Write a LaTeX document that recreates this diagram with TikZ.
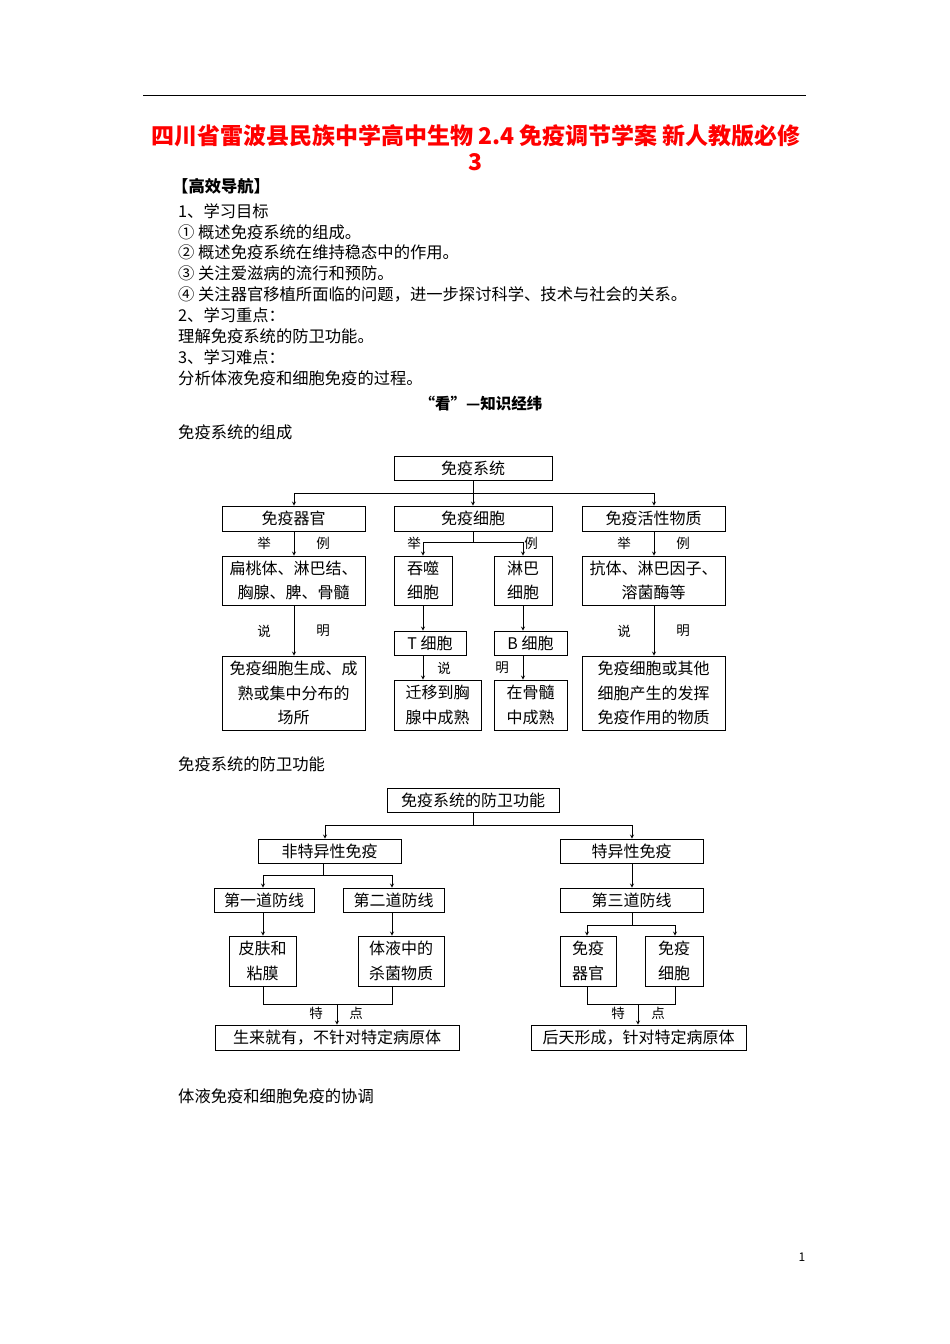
\documentclass[tikz,border=0pt]{standalone}
\usepackage{fontspec}
\setmainfont{Noto Sans CJK SC}
\begin{document}
\begin{tikzpicture}[x=1pt,y=-1pt,
 bx/.style={draw,thick,inner sep=0pt,font=\fontsize{16}{24.5}\selectfont,align=center},
 tx/.style={anchor=west,inner sep=0pt,font=\fontsize{16.3}{18}\selectfont},
 lb/.style={inner sep=0pt,font=\fontsize{13.5}{15}\selectfont},
 ar/.style={thick,-stealth},ln/.style={thick}]
\useasboundingbox (0,0) rectangle (950,1344);
\draw[thick] (143,95) -- (806,95);
\node[text=red,font=\fontsize{23}{26}\selectfont\bfseries] (t1) at (476,136) {四川省雷波县民族中学高中生物 2.4 免疫调节学案 新人教版必修};
\node[text=red,font=\fontsize{23}{26}\selectfont\bfseries] (t2) at (475,162) {3};
\node[tx,font=\fontsize{16.3}{18}\selectfont\bfseries] (h) at (172,186) {【高效导航】};
\foreach \i/\s in {0/{1、学习目标},1/{① 概述免疫系统的组成。},2/{② 概述免疫系统在维持稳态中的作用。},3/{③ 关注爱滋病的流行和预防。},4/{④ 关注器官移植所面临的问题，进一步探讨科学、技术与社会的关系。},5/{2、学习重点：},6/{理解免疫系统的防卫功能。},7/{3、学习难点：},8/{分析体液免疫和细胞免疫的过程。}}
 \node[tx] (l\i) at (178,211+20.9*\i) {\s};
\node[font=\fontsize{15.5}{18}\selectfont\bfseries,inner sep=0pt] (k) at (481,404) {“看”—知识经纬};
\node[tx] (s1) at (178,432) {免疫系统的组成};
\node[tx] (s2) at (178,764) {免疫系统的防卫功能};
\node[tx] (s3) at (178,1096) {体液免疫和细胞免疫的协调};
\node[inner sep=0pt,font=\fontsize{12}{14}\selectfont] (pg) at (802,1257) {1};
% diagram 1
\node[bx,minimum width=158,minimum height=24] (a) at (473,468) {免疫系统};
\node[bx,minimum width=143,minimum height=25] (b1) at (293.5,518.5) {免疫器官};
\node[bx,minimum width=158,minimum height=25] (b2) at (473,518.5) {免疫细胞};
\node[bx,minimum width=143,minimum height=25] (b3) at (653.5,518.5) {免疫活性物质};
\node[bx,minimum width=143,minimum height=49] (c1) at (293.5,580.5) {扁桃体、淋巴结、\\胸腺、脾、骨髓};
\node[bx,minimum width=58,minimum height=49] (c2) at (423,580.5) {吞噬\\细胞};
\node[bx,minimum width=58,minimum height=49] (c3) at (523,580.5) {淋巴\\细胞};
\node[bx,minimum width=143,minimum height=49] (c4) at (653.5,580.5) {抗体、淋巴因子、\\溶菌酶等};
\node[bx,minimum width=72,minimum height=24] (d1) at (430,643) {T 细胞};
\node[bx,minimum width=73,minimum height=24] (d2) at (530.5,643) {B 细胞};
\node[bx,minimum width=143,minimum height=74] (e1) at (293.5,693) {免疫细胞生成、成\\熟或集中分布的\\场所};
\node[bx,minimum width=87,minimum height=50] (e2) at (437.5,705) {迁移到胸\\腺中成熟};
\node[bx,minimum width=73,minimum height=50] (e3) at (530.5,705) {在骨髓\\中成熟};
\node[bx,minimum width=143,minimum height=74] (e4) at (653.5,693) {免疫细胞或其他\\细胞产生的发挥\\免疫作用的物质};
\coordinate (j1) at (473,493);
\draw[ln] (a.south) -- (j1);
\draw[ar] (j1) -| (b1.north -| 294,0);
\draw[ar] (j1) -- (b2.north);
\draw[ar] (j1) -| (b3.north -| 654,0);
\draw[ar] (b1.south -| 294,0) -- (c1.north -| 294,0);
\draw[ar] (b3.south -| 654,0) -- (c4.north -| 654,0);
\coordinate (j2) at (473,542);
\draw[ln] (b2.south) -- (j2);
\draw[ar] (j2) -| (c2.north);
\draw[ar] (j2) -| (c3.north);
\draw[ar] (c1.south -| 294,0) -- (e1.north -| 294,0);
\draw[ar] (c4.south -| 654,0) -- (e4.north -| 654,0);
\draw[ar] (c2.south) -- (c2.south |- d1.north);
\draw[ar] (c3.south) -- (c3.south |- d2.north);
\draw[ar] (d1.south -| 423,0) -- (e2.north -| 423,0);
\draw[ar] (d2.south -| 523,0) -- (e3.north -| 523,0);
\node[lb] (q1) at (264,543) {举}; \node[lb] (q2) at (323,543) {例};
\node[lb] (q3) at (414,543) {举}; \node[lb] (q4) at (531,543) {例};
\node[lb] (q5) at (624,543) {举}; \node[lb] (q6) at (683,543) {例};
\node[lb] (r1) at (264,631) {说}; \node[lb] (r2) at (323,631) {明};
\node[lb] (r3) at (444,668) {说}; \node[lb] (r4) at (502,668) {明};
\node[lb] (r5) at (624,631) {说}; \node[lb] (r6) at (683,631) {明};
% diagram 2
\node[bx,minimum width=172,minimum height=24] (A) at (473,800) {免疫系统的防卫功能};
\node[bx,minimum width=143,minimum height=24] (B1) at (329.5,851) {非特异性免疫};
\node[bx,minimum width=143,minimum height=24] (B2) at (631.5,851) {特异性免疫};
\node[bx,minimum width=100,minimum height=24] (C1) at (264,900) {第一道防线};
\node[bx,minimum width=101,minimum height=24] (C2) at (393.5,900) {第二道防线};
\node[bx,minimum width=143,minimum height=24] (C3) at (631.5,900) {第三道防线};
\node[bx,minimum width=67,minimum height=50] (D1) at (262.5,961) {皮肤和\\粘膜};
\node[bx,minimum width=86,minimum height=50] (D2) at (401,961) {体液中的\\杀菌物质};
\node[bx,minimum width=56,minimum height=50] (D3) at (588,961) {免疫\\器官};
\node[bx,minimum width=58,minimum height=50] (D4) at (674,961) {免疫\\细胞};
\node[bx,minimum width=244,minimum height=25] (E1) at (337,1037.5) {生来就有，不针对特定病原体};
\node[bx,minimum width=215,minimum height=25] (E2) at (638.5,1037.5) {后天形成，针对特定病原体};
\coordinate (J1) at (473,825);
\draw[ln] (A.south) -- (J1);
\draw[ar] (J1) -| (B1.north -| 325,0);
\draw[ar] (J1) -| (B2.north -| 632,0);
\coordinate (J2) at (323,875);
\draw[ln] (B1.south -| 323,0) -- (J2);
\draw[ar] (J2) -| (C1.north -| 263,0);
\draw[ar] (J2) -| (C2.north -| 392,0);
\draw[ar] (B2.south -| 632,0) -- (C3.north -| 632,0);
\draw[ar] (C1.south -| 263,0) -- (D1.north -| 263,0);
\draw[ar] (C2.south -| 392,0) -- (D2.north -| 392,0);
\coordinate (J3) at (632,925);
\draw[ln] (C3.south -| 632,0) -- (J3);
\draw[ar] (J3) -| (D3.north -| 587,0);
\draw[ar] (J3) -| (D4.north -| 675,0);
\coordinate (K1) at (337,1004);
\draw[ln] (D1.south -| 263,0) |- (K1) -| (D2.south -| 392,0);
\draw[ar] (K1) -- (E1.north -| 337,0);
\coordinate (K2) at (638,1004);
\draw[ln] (D3.south -| 587,0) |- (K2) -| (D4.south -| 675,0);
\draw[ar] (K2) -- (E2.north -| 638,0);
\node[lb] (p1) at (316,1013) {特}; \node[lb] (p2) at (356,1013) {点};
\node[lb] (p3) at (618,1013) {特}; \node[lb] (p4) at (658,1013) {点};
\end{tikzpicture}
\end{document}
